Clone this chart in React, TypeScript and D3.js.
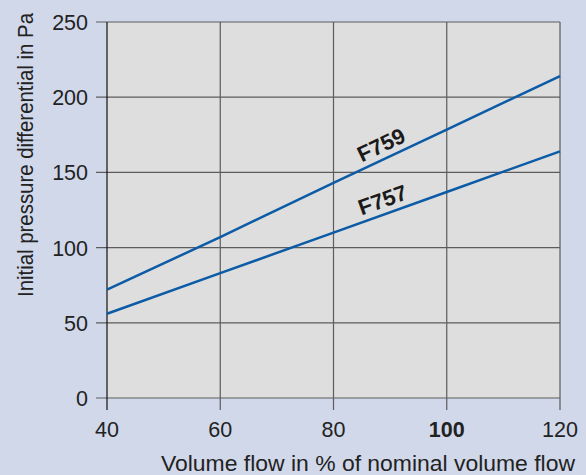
import React from "react";
import * as d3 from "d3";

const xValues = [40, 60, 80, 100, 120];
const f759 = [72, 107, 143, 178.5, 214];
const f757 = [56, 83, 110, 137, 164];
const xTicks = [40, 60, 80, 100, 120];
const yTicks = [0, 50, 100, 150, 200, 250];
const seriesNames = ["F759", "F757"];

const W = 586, H = 475;
const left = 107, right = 560, top = 22, bottom = 398;
const FONT = "'Liberation Sans', Arial, Helvetica, sans-serif";

export default function App() {
  const x = d3.scaleLinear().domain([40, 120]).range([left, right]);
  const y = d3.scaleLinear().domain([0, 250]).range([bottom, top]);
  const line = d3.line<number>().x((_, i) => x(xValues[i])).y((d) => y(d));
  const grid = "#5c5c5c";
  const blue = "#0b5ba6";

  const labelAt = (vals: number[], xv: number, name: string, dy: number) => {
    const i0 = 1, i1 = 3;
    const ang = (Math.atan2(y(vals[i1]) - y(vals[i0]), x(xValues[i1]) - x(xValues[i0])) * 180) / Math.PI;
    const px = x(xv);
    const py = y(d3.scaleLinear().domain(xValues).range(vals)(xv));
    return (
      <text
        transform={`translate(${px},${py}) rotate(${ang}) translate(0,${dy})`}
        textAnchor="middle"
        fontFamily={FONT}
        fontSize={22}
        fontWeight="bold"
        fill="#1a1a1a"
      >
        {name}
      </text>
    );
  };

  return (
    <svg width={W} height={H} style={{ position: "absolute", left: 0, top: 0 }}>
      <rect x={0} y={0} width={W} height={H} fill="#d1d8ea" />
      <rect x={left} y={top} width={right - left} height={bottom - top} fill="#dedede" />
      {yTicks.map((t) => (
        <line key={"gy" + t} x1={left - 11} x2={right} y1={y(t)} y2={y(t)} stroke={grid} strokeWidth={1.2} />
      ))}
      {xTicks.map((t) => (
        <line key={"gx" + t} x1={x(t)} x2={x(t)} y1={top} y2={bottom + 12} stroke={t === 40 ? "#111" : grid} strokeWidth={1.2} />
      ))}
      <path d={line(f759) || ""} fill="none" stroke={blue} strokeWidth={2.5} />
      <path d={line(f757) || ""} fill="none" stroke={blue} strokeWidth={2.5} />
      {labelAt(f759, 89.5, seriesNames[0], -6.5)}
      {labelAt(f757, 89.5, seriesNames[1], -6.5)}
      {yTicks.map((t) => (
        <text key={"ty" + t} x={88} y={y(t) + 8} textAnchor="end" fontFamily={FONT} fontSize={21.5} fill="#222">
          {t}
        </text>
      ))}
      {xTicks.map((t) => (
        <text key={"tx" + t} x={x(t)} y={437} textAnchor="middle" fontFamily={FONT} fontSize={21.5}
          fontWeight={t === 100 ? "bold" : "normal"} fill="#222">
          {t}
        </text>
      ))}
      <text x={161} y={471} fontFamily={FONT} fontSize={21.5} fill="#222" textLength={414} lengthAdjust="spacingAndGlyphs">
        Volume flow in % of nominal volume flow
      </text>
      <text transform="translate(33,297) rotate(-90)" fontFamily={FONT} fontSize={22} fill="#222" textLength={284} lengthAdjust="spacingAndGlyphs">
        Initial pressure differential in Pa
      </text>
    </svg>
  );
}
